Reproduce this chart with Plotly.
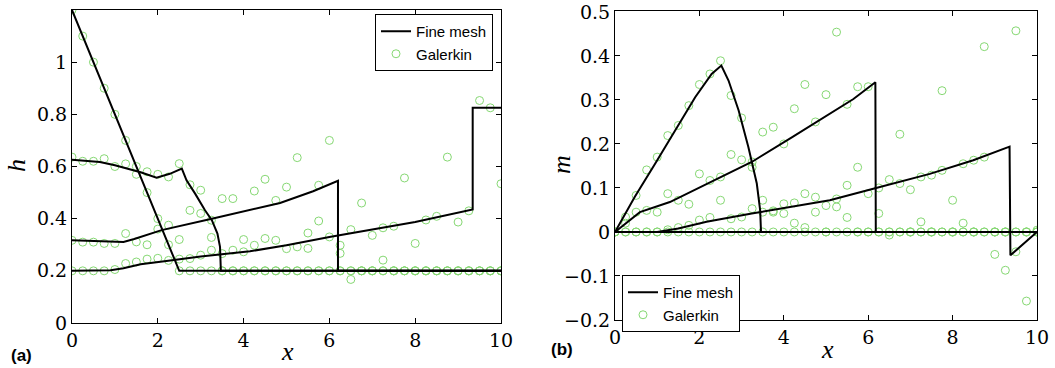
import plotly.graph_objects as go

# ---------------- data ----------------
x_nodes = [0, 0.25, 0.5, 0.75, 1, 1.25, 1.5, 1.75, 2, 2.25, 2.5, 2.75, 3, 3.25, 3.5, 3.75,
           4, 4.25, 4.5, 4.75, 5, 5.25, 5.5, 5.75, 6, 6.25, 6.5, 6.75, 7, 7.25, 7.5, 7.75,
           8, 8.25, 8.5, 8.75, 9, 9.25, 9.5, 9.75, 10]

fine_h0_x = [0, 2.5, 10]
fine_h0_y = [1.2, 0.2, 0.2]
fine_h1_x = [0, 0.65, 1.0, 1.43, 1.6, 1.97, 2.28, 2.56, 2.67, 2.87, 3.10, 3.26, 3.39, 3.45, 3.47, 10]
fine_h1_y = [0.626, 0.617, 0.605, 0.585, 0.578, 0.557, 0.572, 0.592, 0.547, 0.496, 0.432, 0.394, 0.343, 0.292, 0.2, 0.2]
fine_h2_x = [0, 1.2, 1.45, 2.09, 3.26, 4.15, 4.85, 5.62, 6.2, 6.2, 10]
fine_h2_y = [0.317, 0.311, 0.322, 0.356, 0.40, 0.435, 0.46, 0.505, 0.545, 0.2, 0.2]
fine_h3_x = [0, 0.9, 1.2, 1.6, 2.2, 3.0, 4.15, 5.0, 6.0, 7.0, 8.0, 9.34, 9.34, 10]
fine_h3_y = [0.2, 0.202, 0.21, 0.225, 0.238, 0.255, 0.275, 0.298, 0.33, 0.358, 0.387, 0.435, 0.825, 0.825]

gal_h0 = [1.2, 1.1, 1.0, 0.9, 0.8, 0.7, 0.6, 0.5, 0.4, 0.3, 0.2, 0.2, 0.2, 0.2, 0.2, 0.2,
          0.2, 0.2, 0.2, 0.2, 0.2, 0.2, 0.2, 0.2, 0.2, 0.2, 0.2, 0.2, 0.2, 0.2, 0.2, 0.2,
          0.2, 0.2, 0.2, 0.2, 0.2, 0.2, 0.2, 0.2, 0.2]
gal_h1 = [0.636, 0.62, 0.62, 0.63, 0.60, 0.61, 0.57, 0.58, 0.57, 0.56, 0.611, 0.53, 0.509, 0.394,
          0.2, 0.2, 0.2, 0.2, 0.2, 0.2, 0.2, 0.2, 0.2, 0.2, 0.2, 0.2, 0.2, 0.2, 0.2, 0.2,
          0.2, 0.2, 0.2, 0.2, 0.2, 0.2, 0.2, 0.2, 0.2, 0.2, 0.2]
gal_h2 = [0.317, 0.31, 0.31, 0.305, 0.305, 0.343, 0.311, 0.30, 0.36, 0.375, 0.32, 0.432, 0.42, 0.328,
          0.477, 0.477, 0.32, 0.506, 0.551, 0.47, 0.521, 0.634, 0.345, 0.528, 0.70, 0.267, 0.167,
          0.2, 0.2, 0.241, 0.2, 0.2, 0.2, 0.2, 0.2, 0.2, 0.2, 0.2, 0.2, 0.2, 0.2]
gal_h3 = [0.2, 0.2, 0.2, 0.2, 0.205, 0.228, 0.234, 0.245, 0.248, 0.24, 0.245, 0.247, 0.26, 0.279,
          0.266, 0.279, 0.273, 0.298, 0.324, 0.317, 0.285, 0.292, 0.286, 0.391, 0.33, 0.298, 0.358,
          0.46, 0.336, 0.365, 0.371, 0.556, 0.305, 0.395, 0.409, 0.636, 0.387, 0.43, 0.853, 0.825, 0.534]

fine_m0_x = [0, 10]
fine_m0_y = [0, 0]
fine_m1_x = [0, 0.47, 0.95, 1.42, 1.90, 2.29, 2.52, 2.69, 2.93, 3.16, 3.36, 3.44, 3.46, 10]
fine_m1_y = [0, 0.08, 0.155, 0.231, 0.306, 0.359, 0.378, 0.344, 0.276, 0.193, 0.11, 0.049, 0, 0]
fine_m2_x = [0, 0.59, 1.30, 2.35, 3.24, 4.19, 5.09, 5.65, 6.17, 6.18, 10]
fine_m2_y = [0, 0.045, 0.068, 0.118, 0.159, 0.215, 0.268, 0.302, 0.34, 0, 0]
fine_m3_x = [0, 1.0, 1.5, 2.17, 3.24, 4.2, 5.09, 6.12, 7.46, 8.49, 9.35, 9.37, 10]
fine_m3_y = [0, 0.0, 0.008, 0.023, 0.042, 0.058, 0.072, 0.098, 0.132, 0.163, 0.194, -0.053, 0.0]

gal_m0 = [0, 0, 0, 0, 0, 0, 0, 0, 0, 0, 0, 0, 0, 0, 0, 0, 0, 0, 0, 0, 0,
          0, 0, 0, 0, 0, 0, 0, 0, 0, 0, 0, 0, 0, 0, 0, 0, 0, 0, 0, 0]
gal_m1 = [0, 0.034, 0.083, 0.141, 0.17, 0.219, 0.242, 0.287, 0.335, 0.359, 0.389, 0.31, 0.259, 0.147,
          0.072, 0.045, 0.042, 0.02, 0.01, 0.045, 0, 0.057, 0.033, 0, 0, 0.042, -0.007, 0, 0, 0.023,
          0, 0, 0, 0.02, 0, 0, 0, 0, 0, 0, 0]
gal_m2 = [0, 0.02, 0.045, 0.049, 0.045, 0.087, 0.072, 0.063, 0.132, 0.117, 0.125, 0.176, 0.164, 0.159,
          0.227, 0.238, 0.2, 0.28, 0.335, 0.25, 0.312, 0.454, 0.29, 0.33, 0.33, 0, 0, 0.222, 0, 0,
          0, 0.321, 0, 0, 0, 0.421, 0, 0, 0.457, 0, 0]
gal_m3 = [0, 0, 0, 0, 0, 0.005, 0.01, 0.015, 0.027, 0.033, 0.072, 0.03, 0.034, 0.053, 0.045, 0.048,
          0.064, 0.066, 0.087, 0.079, 0.06, 0.075, 0.106, 0.147, 0.087, 0.1, 0.119, 0.11, 0.096, 0.125,
          0.129, 0.14, 0.072, 0.155, 0.163, 0.17, -0.051, -0.087, -0.045, -0.157, 0.004]

x_ticks = [0, 2, 4, 6, 8, 10]
h_ticks = [0, 0.2, 0.4, 0.6, 0.8, 1]
h_tick_text = ["0", "0.2", "0.4", "0.6", "0.8", "1"]
m_ticks = [-0.2, -0.1, 0, 0.1, 0.2, 0.3, 0.4, 0.5]
m_tick_text = ["\u22120.2", "\u22120.1", "0", "0.1", "0.2", "0.3", "0.4", "0.5"]

# ---------------- figure ----------------
W, H = 1055, 368
GREEN = "#86d873"
SERIF = "DejaVu Serif"
SANS = "Liberation Sans"

fig = go.Figure()

gal_h = [gal_h0, gal_h1, gal_h2, gal_h3]
gal_m = [gal_m0, gal_m1, gal_m2, gal_m3]
fine_h = [(fine_h0_x, fine_h0_y), (fine_h1_x, fine_h1_y), (fine_h2_x, fine_h2_y), (fine_h3_x, fine_h3_y)]
fine_m = [(fine_m0_x, fine_m0_y), (fine_m1_x, fine_m1_y), (fine_m2_x, fine_m2_y), (fine_m3_x, fine_m3_y)]

marker = dict(symbol="circle-open", size=8, color=GREEN, line=dict(width=1, color=GREEN))
line = dict(color="black", width=2)

for i, g in enumerate(gal_h):
    fig.add_trace(go.Scatter(x=x_nodes, y=g, mode="markers", marker=marker, name="Galerkin",
                             showlegend=(i == 0), legend="legend", legendrank=2,
                             xaxis="x", yaxis="y"))
for i, (fx, fy) in enumerate(fine_h):
    fig.add_trace(go.Scatter(x=fx, y=fy, mode="lines", line=line, name="Fine mesh",
                             showlegend=(i == 0), legend="legend", legendrank=1,
                             xaxis="x", yaxis="y"))
for i, g in enumerate(gal_m):
    fig.add_trace(go.Scatter(x=x_nodes, y=g, mode="markers", marker=marker, name="Galerkin",
                             showlegend=(i == 0), legend="legend2", legendrank=2,
                             xaxis="x2", yaxis="y2"))
for i, (fx, fy) in enumerate(fine_m):
    fig.add_trace(go.Scatter(x=fx, y=fy, mode="lines", line=line, name="Fine mesh",
                             showlegend=(i == 0), legend="legend2", legendrank=1,
                             xaxis="x2", yaxis="y2"))


def axis(**kw):
    d = dict(showline=True, linecolor="black", linewidth=1, mirror="ticks",
             ticks="inside", ticklen=5, tickwidth=1, tickcolor="black",
             showgrid=False, zeroline=False, automargin=False,
             tickfont=dict(family=SERIF, size=19, color="black"))
    d.update(kw)
    return d


fig.update_layout(
    template="none",
    font=dict(family=SERIF, color="black"),
    width=W, height=H, autosize=False,
    margin=dict(l=0, r=0, t=0, b=0, pad=0, autoexpand=False),
    paper_bgcolor="white", plot_bgcolor="white",
    xaxis=axis(domain=[72 / W, 501 / W], range=[0, 10], tickmode="array", tickvals=x_ticks, anchor="y"),
    yaxis=axis(domain=[1 - 323 / H, 1 - 10 / H], range=[0, 1.2], tickmode="array", tickvals=h_ticks,
               ticktext=h_tick_text, anchor="x"),
    xaxis2=axis(domain=[615 / W, 1037 / W], range=[0, 10], tickmode="array", tickvals=x_ticks, anchor="y2"),
    yaxis2=axis(domain=[1 - 320 / H, 1 - 11 / H], range=[-0.2, 0.502], tickmode="array", tickvals=m_ticks,
                ticktext=m_tick_text, anchor="x2"),
    legend=dict(x=493 / W, y=1 - 14 / H, xanchor="right", yanchor="top",
                bgcolor="white", bordercolor="black", borderwidth=1,
                font=dict(family=SANS, size=15, color="black"),
                tracegroupgap=0, itemwidth=30),
    legend2=dict(x=622 / W, y=1 - 275 / H, xanchor="left", yanchor="top",
                 bgcolor="white", bordercolor="black", borderwidth=1,
                 font=dict(family=SANS, size=15, color="black"),
                 tracegroupgap=0, itemwidth=30),
    showlegend=True,
)

math_font = dict(family="Liberation Serif", size=26, color="black")
ann = [
    dict(text="<i>h</i>", x=16 / W, y=1 - 166 / H, textangle=-90, font=math_font),
    dict(text="<i>m</i>", x=561 / W, y=1 - 165 / H, textangle=-90, font=math_font),
    dict(text="<i>x</i>", x=287 / W, y=1 - 351 / H, font=math_font),
    dict(text="<i>x</i>", x=827 / W, y=1 - 349 / H, font=math_font),
    dict(text="<b>(a)</b>", x=21 / W, y=1 - 355 / H, font=dict(family=SANS, size=17, color="black")),
    dict(text="<b>(b)</b>", x=562 / W, y=1 - 349 / H, font=dict(family=SANS, size=17, color="black")),
]
for a in ann:
    fig.add_annotation(xref="paper", yref="paper", showarrow=False,
                       xanchor="center", yanchor="middle", **a)

fig.write_html("out.html")
